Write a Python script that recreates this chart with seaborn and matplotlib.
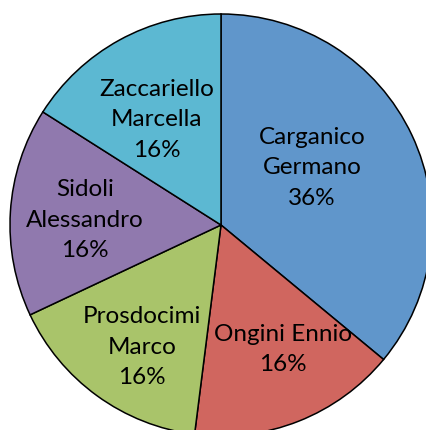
import numpy as np
import matplotlib
matplotlib.use("Agg")
import matplotlib.pyplot as plt
import seaborn as sns

# dati del grafico
names = ["Carganico\nGermano", "Ongini Ennio", "Prosdocimi\nMarco",
         "Sidoli\nAlessandro", "Zaccariello\nMarcella"]
votes = [9, 4, 4, 4, 4]
colors = ["#6096CB", "#D0665F", "#A9C46A", "#9079AE", "#5CB8D2"]
# posizione etichette: distanza dal centro e spostamento d'angolo
label_dist = [0.51, 0.66, 0.69, 0.645, 0.585]
label_shift = [6.9, 5.0, 3.1, 1.5, 2.6]

sns.set_theme(style="white")
plt.rcParams["font.family"] = ["Lato", "DejaVu Sans"]

fig = plt.figure(figsize=(4.26, 4.30), dpi=100)
# centro a (221, 225) px, raggio 211 px
ax = fig.add_axes([(221 - 211) / 426, (430 - 225 - 211) / 430, 422 / 426, 422 / 430])

wedges, _ = ax.pie(votes, colors=sns.color_palette(colors), startangle=90,
                   counterclock=False, radius=1.0,
                   wedgeprops=dict(edgecolor="black", linewidth=1.1))

total = sum(votes)
for w, name, v, d, s in zip(wedges, names, votes, label_dist, label_shift):
    mid = np.deg2rad((w.theta1 + w.theta2) / 2 + s)
    ax.text(d * np.cos(mid), d * np.sin(mid), f"{name}\n{v / total:.0%}",
            ha="center", va="center", fontsize=17.5, color="black",
            linespacing=1.56)

ax.set_xlim(-1, 1)
ax.set_ylim(-1, 1)
ax.axis("off")

fig.savefig("out.png", dpi=100)
